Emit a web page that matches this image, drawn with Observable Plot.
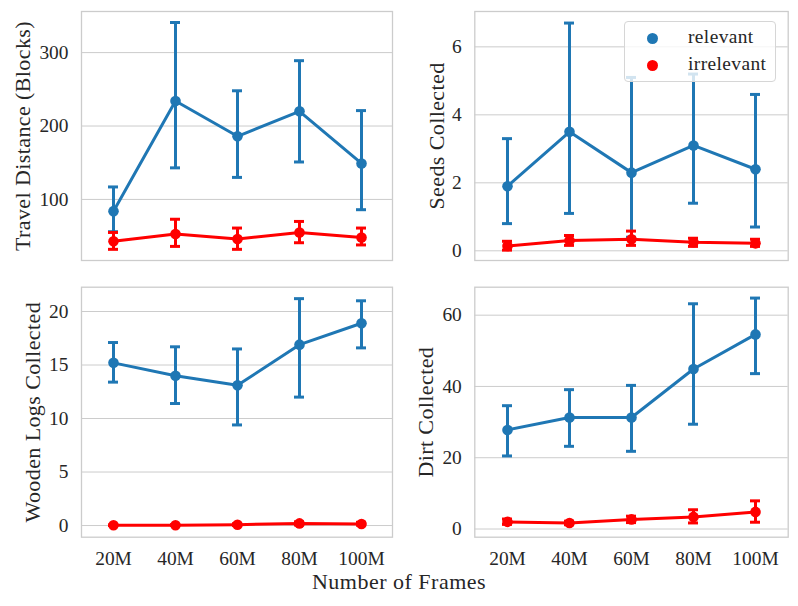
<!DOCTYPE html>
<html>
<head>
<meta charset="utf-8">
<script src="https://cdn.jsdelivr.net/npm/d3@7"></script>
<script src="https://cdn.jsdelivr.net/npm/@observablehq/plot@0.6"></script>
<style>
  html, body { margin: 0; padding: 0; background: #fff; }
  #wrap { position: relative; width: 798px; height: 606px; font-family: "Liberation Serif", serif; color: #262626; overflow: hidden; }
  .panel { position: absolute; }
  .panel svg { overflow: visible; }
  g[aria-label="text"] text { letter-spacing: 0.4px; }
  #xtitle { position: absolute; left: 0; width: 798px; top: 569px; text-align: center; font-size: 22px; line-height: 26px; letter-spacing: 0.5px; }
  #legend { position: absolute; left: 624px; top: 21px; width: 152px; height: 61px; box-sizing: border-box;
            border: 1px solid #d6d6d6; border-radius: 4px; background: rgba(255,255,255,0.8); }
  .lg-dot { position: absolute; width: 11px; height: 11px; border-radius: 50%; }
  .lg-txt { position: absolute; font-size: 19.4px; line-height: 22px; letter-spacing: 0.4px; }
</style>
</head>
<body>
<div id="wrap"></div>
<script>
// ---------- data ----------
const frames = ["20M", "40M", "60M", "80M", "100M"];
const groups = ["relevant", "irrelevant"];
const groupColors = ["#1f77b4", "#ff0000"];

const travelRelMean = [84, 234, 186, 220, 149];
const travelRelLo   = [56, 143, 130, 151, 86];
const travelRelHi   = [117, 341, 248, 289, 221];
const travelIrrMean = [43, 53, 46, 55, 48];
const travelIrrLo   = [32, 36, 32, 41, 38];
const travelIrrHi   = [55, 73, 61, 70, 61];

const seedsRelMean = [1.9, 3.5, 2.3, 3.1, 2.4];
const seedsRelLo   = [0.8, 1.1, 0.4, 1.4, 0.7];
const seedsRelHi   = [3.3, 6.7, 5.1, 5.2, 4.6];
const seedsIrrMean = [0.14, 0.30, 0.34, 0.25, 0.22];
const seedsIrrLo   = [0.02, 0.16, 0.16, 0.13, 0.13];
const seedsIrrHi   = [0.28, 0.45, 0.58, 0.37, 0.34];

const woodRelMean = [15.2, 14.0, 13.1, 16.9, 18.9];
const woodRelLo   = [13.4, 11.4, 9.4, 12.0, 16.6];
const woodRelHi   = [17.1, 16.7, 16.5, 21.2, 21.0];
const woodIrrMean = [0.02, 0.03, 0.08, 0.2, 0.15];
const woodIrrLo   = [0.0, 0.0, 0.0, 0.05, 0.03];
const woodIrrHi   = [0.06, 0.08, 0.17, 0.35, 0.3];

const dirtRelMean = [27.8, 31.3, 31.3, 44.9, 54.6];
const dirtRelLo   = [20.5, 23.2, 21.8, 29.4, 43.6];
const dirtRelHi   = [34.6, 39.1, 40.3, 63.2, 64.8];
const dirtIrrMean = [2.0, 1.7, 2.7, 3.4, 4.8];
const dirtIrrLo   = [1.3, 1.2, 1.8, 1.7, 1.9];
const dirtIrrHi   = [2.8, 2.2, 3.6, 5.4, 7.9];

const travelTicks = [100, 200, 300];
const seedsTicks = [0, 2, 4, 6];
const woodTicks = [0, 5, 10, 15, 20];
const dirtTicks = [0, 20, 40, 60];

const xTitle = "Number of Frames";

// ---------- helpers ----------
function rows(group, mean, lo, hi) {
  return frames.map((f, i) => ({frame: f, group, mean: mean[i], lo: lo[i], hi: hi[i]}));
}

function seriesMarks(data, color) {
  const sw = 3;
  return [
    Plot.ruleX(data, {x: "frame", y1: "lo", y2: "hi", stroke: color, strokeWidth: sw}),
    Plot.ruleY(data, {x1: "frame", x2: "frame", y: "lo", stroke: color, strokeWidth: sw, insetLeft: -5, insetRight: -5}),
    Plot.ruleY(data, {x1: "frame", x2: "frame", y: "hi", stroke: color, strokeWidth: sw, insetLeft: -5, insetRight: -5}),
    Plot.line(data, {x: "frame", y: "mean", stroke: color, strokeWidth: sw}),
    Plot.dot(data, {x: "frame", y: "mean", r: 5.3, fill: color, stroke: "none"})
  ];
}

function panel(cfg) {
  const m = cfg.margins;
  const chart = Plot.plot({
    width: cfg.width,
    height: cfg.height,
    marginLeft: m[0], marginRight: m[1], marginTop: m[2], marginBottom: m[3],
    style: {fontFamily: "'Liberation Serif', serif", fontSize: "19.4px", color: "#262626", background: "transparent", overflow: "visible"},
    x: {type: "point", domain: frames, padding: 0.5},
    y: {domain: cfg.yDomain},
    marks: [
      Plot.gridY(cfg.ticks, {stroke: "#cccccc", strokeOpacity: 1, strokeWidth: 1}),
      Plot.frame({stroke: "#cccccc", strokeWidth: 1.3}),
      Plot.axisY(cfg.ticks, {tickSize: 0, tickPadding: 13, label: null, fontSize: 19.4, fill: "#262626"}),
      Plot.text([cfg.label], {frameAnchor: "left", dx: -cfg.labelOffset, rotate: -90, lineAnchor: "top",
                              textAnchor: "middle", fontSize: 22, fill: "#262626"}),
      cfg.showX
        ? Plot.axisX({tickSize: 0, tickPadding: 14, label: null, fontSize: 19.4, fill: "#262626"})
        : Plot.axisX({ticks: [], label: null, tickSize: 0}),
      ...seriesMarks(cfg.rel, groupColors[0]),
      ...seriesMarks(cfg.irr, groupColors[1])
    ]
  });
  const div = document.createElement("div");
  div.className = "panel";
  div.style.left = cfg.left + "px";
  div.style.top = cfg.top + "px";
  div.appendChild(chart);
  return div;
}

const wrap = document.getElementById("wrap");

wrap.appendChild(panel({
  left: 0, top: 0, width: 399, height: 270, margins: [81, 7, 11, 10],
  yDomain: [16.8, 356], ticks: travelTicks, label: "Travel Distance (Blocks)", labelOffset: 67.5,
  showX: false,
  rel: rows(groups[0], travelRelMean, travelRelLo, travelRelHi),
  irr: rows(groups[1], travelIrrMean, travelIrrLo, travelIrrHi)
}));

wrap.appendChild(panel({
  left: 399, top: 0, width: 399, height: 270, margins: [75.3, 10.3, 11, 10],
  yDomain: [-0.285, 7.04], ticks: seedsTicks, label: "Seeds Collected", labelOffset: 46.5,
  showX: false,
  rel: rows(groups[0], seedsRelMean, seedsRelLo, seedsRelHi),
  irr: rows(groups[1], seedsIrrMean, seedsIrrLo, seedsIrrHi)
}));

wrap.appendChild(panel({
  left: 0, top: 270, width: 399, height: 336, margins: [81, 7, 16.7, 69.3],
  yDomain: [-1.09, 22.27], ticks: woodTicks, label: "Wooden Logs Collected", labelOffset: 57.5,
  showX: true,
  rel: rows(groups[0], woodRelMean, woodRelLo, woodRelHi),
  irr: rows(groups[1], woodIrrMean, woodIrrLo, woodIrrHi)
}));

wrap.appendChild(panel({
  left: 399, top: 270, width: 399, height: 336, margins: [75.3, 10.3, 16.7, 69.3],
  yDomain: [-2.3, 67.85], ticks: dirtTicks, label: "Dirt Collected", labelOffset: 57,
  showX: true,
  rel: rows(groups[0], dirtRelMean, dirtRelLo, dirtRelHi),
  irr: rows(groups[1], dirtIrrMean, dirtIrrLo, dirtIrrHi)
}));

// x title
const xt = document.createElement("div");
xt.id = "xtitle";
xt.textContent = xTitle;
wrap.appendChild(xt);

// legend
const lg = document.createElement("div");
lg.id = "legend";
groups.forEach((g, i) => {
  const d = document.createElement("div");
  d.className = "lg-dot";
  d.style.background = groupColors[i];
  d.style.left = (27.7 - 5.5) + "px";
  d.style.top = (16.3 + i * 26.7 - 5.5) + "px";
  lg.appendChild(d);
  const t = document.createElement("div");
  t.className = "lg-txt";
  t.textContent = g;
  t.style.left = "63px";
  t.style.top = (16.3 + i * 26.7 - 12) + "px";
  lg.appendChild(t);
});
wrap.appendChild(lg);
</script>
</body>
</html>
